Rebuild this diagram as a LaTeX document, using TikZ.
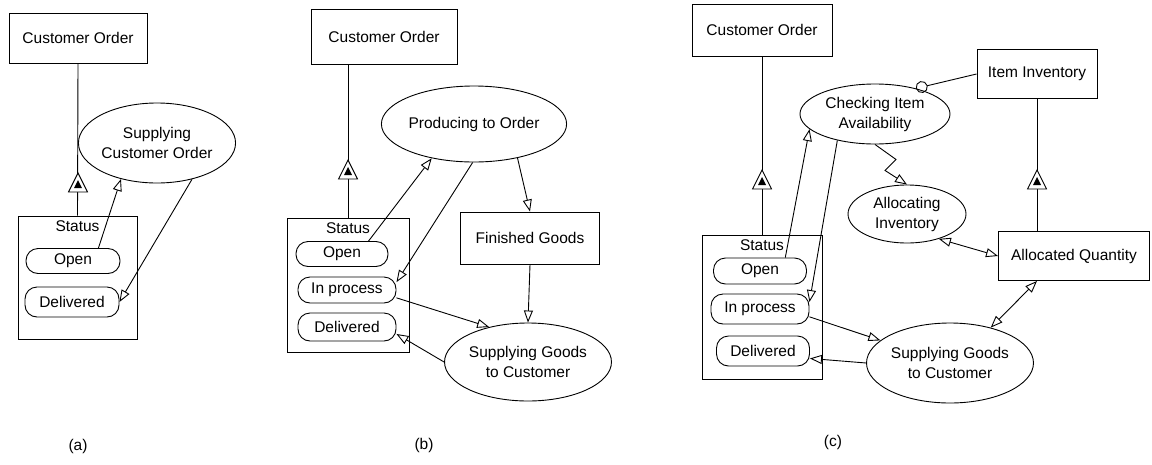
\documentclass[tikz,border=0pt]{standalone}
\usepackage{fontspec}
\setmainfont{Liberation Sans}
\usetikzlibrary{arrows.meta, shapes.geometric}

\begin{document}
\begin{tikzpicture}[x=1pt, y=-1pt, line width=0.9pt,
    every node/.style={font=\fontsize{15.5pt}{20pt}\selectfont, inner sep=0pt},
    entity/.style={shape = rectangle, draw = black},
    process/.style={shape = ellipse, draw = black, align = center},
    pill/.style={shape = rectangle, rounded corners = 12pt, draw = black},
    flow/.style={-{Triangle[open, length=12pt, width=9pt]}},
    twoway/.style={{Triangle[open, length=12pt, width=9pt]}-{Triangle[open, length=12pt, width=9pt]}},
    gen/.pic={
      \draw[fill = white] (-9.5,9) -- (9.5,9) -- (0,-10) -- cycle;
      \fill (-4,5) -- (4,5) -- (0,-3) -- cycle;
    }]
      \useasboundingbox (0,0) rectangle (1152,464);

      % (a) ----------------------------------------------------------------------
      \node[entity, minimum width = 138pt, minimum height = 50pt] at (78,38) (order_a) {Customer Order};
      \node[entity, minimum width = 119pt, minimum height = 123pt] at (77.5,277.5) (status_a) {};
      \node[below = 5pt] at (status_a.north) (label_a) {Status};
      \node[pill, minimum width = 94pt, minimum height = 25pt] at (73,261) (open_a) {Open};
      \node[pill, minimum width = 94pt, minimum height = 30pt] at (72,302) (deliv_a) {Delivered};
      \node[process, minimum width = 137pt, minimum height = 80pt] at (157,143) (supply_a) {Supplying\\Customer Order};

      \draw (order_a.south) -- (status_a.north);
      \pic at (78,183) {gen};

      \draw[flow] (open_a.27) -- (supply_a.225);
      \draw[flow] (supply_a.314) -- (deliv_a.east);

      \node at (78,446) (cap_a) {(a)};

      % (b) ----------------------------------------------------------------------
      \node[entity, minimum width = 146pt, minimum height = 55pt] at (384,37) (order_b) {Customer Order};
      \node[entity, minimum width = 122pt, minimum height = 134pt] at (348,285) (status_b) {};
      \node[below = 5pt] at (status_b.north) (label_b) {Status};
      \node[pill, minimum width = 92pt, minimum height = 25pt] at (342,254) (open_b) {Open};
      \node[pill, minimum width = 98pt, minimum height = 26pt] at (347,290) (inproc_b) {In process};
      \node[pill, minimum width = 98pt, minimum height = 28pt] at (347,327) (deliv_b) {Delivered};
      \node[process, minimum width = 164pt, minimum height = 76pt] at (474,124) (produce_b) {Producing to Order};
      \node[entity, minimum width = 139pt, minimum height = 52pt] at (530,238) (goods_b) {Finished Goods};
      \node[process, minimum width = 148pt, minimum height = 78pt] at (528,362) (supply_b) {Supplying Goods\\to Customer};

      \draw (order_b.south -| status_b.north) -- (status_b.north);
      \pic at (348,170) {gen};

      \draw[flow] (open_b.26) -- (produce_b.219);
      \draw[flow] (produce_b.268) -- (inproc_b.9);
      \draw[flow] (produce_b.322) -- (goods_b.north);
      \draw[flow] (goods_b.south) -- (supply_b.north);
      \draw[flow] (inproc_b.351) -- (supply_b.138);
      \draw[flow] (supply_b.west) -- (deliv_b.352);

      \node at (424,445) (cap_b) {(b)};

      % (c) ----------------------------------------------------------------------
      \node[entity, minimum width = 140pt, minimum height = 52pt] at (762,30) (order_c) {Customer Order};
      \node[entity, minimum width = 120pt, minimum height = 144pt] at (762,307) (status_c) {};
      \node[below = 5pt] at (status_c.north) (label_c) {Status};
      \node[pill, minimum width = 93pt, minimum height = 26pt] at (760,271) (open_c) {Open};
      \node[pill, minimum width = 98pt, minimum height = 30pt] at (760,309) (inproc_c) {In process};
      \node[pill, minimum width = 93pt, minimum height = 30pt] at (763,351) (deliv_c) {Delivered};
      \node[entity, minimum width = 120pt, minimum height = 49pt] at (1037,74) (item_c) {Item Inventory};
      \node[process, minimum width = 150pt, minimum height = 60pt] at (875,114) (check_c) {Checking Item\\Availability};
      \node[process, minimum width = 118pt, minimum height = 58pt] at (907,214) (alloc_c) {Allocating\\Inventory};
      \node[entity, minimum width = 151pt, minimum height = 49pt] at (1074,256) (qty_c) {Allocated Quantity};
      \node[process, minimum width = 148pt, minimum height = 80pt] at (950,363) (supply_c) {Supplying Goods\\to Customer};

      \draw (order_c.south) -- (status_c.north);
      \pic at (762,180) {gen};
      \draw (item_c.south) -- (qty_c.north -| item_c.south);
      \pic at (1037,180) {gen};

      \draw[-{Circle[open, length=12pt]}] (item_c.west) -- (check_c.32);
      \draw[flow] (open_c.28) -- (check_c.193);
      \draw[flow] (check_c.215) -- (inproc_c.8);
      \draw[flow] (check_c.south) -- ++(21,15) -- ++(-11,11) -- (alloc_c.north);
      \draw[twoway] (alloc_c.322) -- (qty_c.west);
      \draw[twoway] (qty_c.214) -- (supply_c.41);
      \draw[flow] (inproc_c.351) -- (supply_c.162);
      \draw[flow] (supply_c.west) -- (deliv_c.351);

      \node at (833,442) (cap_c) {(c)};
    \end{tikzpicture}
\end{document}
